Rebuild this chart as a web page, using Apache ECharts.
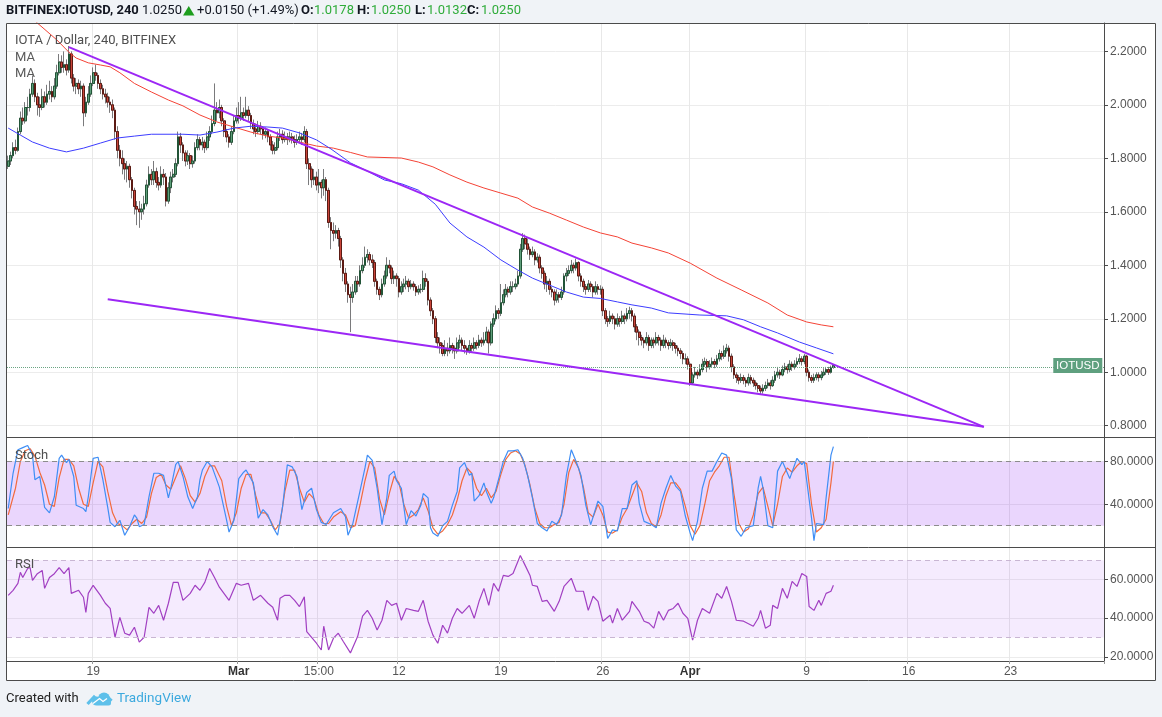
<!DOCTYPE html>
<html>
<head>
<meta charset="utf-8">
<title>IOTUSD 240</title>
<script src="https://cdn.jsdelivr.net/npm/echarts@6/dist/echarts.min.js"></script>
<style>
html, body { margin: 0; padding: 0; background: #f0f3f7; }
#chart { width: 1162px; height: 717px; }
</style>
</head>
<body>
<div id="chart"></div>
<script>
// 4h candles, [open, close, low, high], from 13 Feb 04:00
var candles = [
[1.770,1.790,1.760,1.810],[1.790,1.810,1.775,1.825],[1.810,1.840,1.800,1.860],[1.840,1.830,1.815,1.870],[1.830,1.900,1.825,1.915],
[1.900,1.950,1.890,1.975],[1.950,1.940,1.925,1.990],[1.940,1.990,1.930,2.010],[1.990,1.990,1.960,2.030],[1.990,2.040,1.975,2.060],
[2.040,2.080,2.030,2.110],[2.080,2.030,2.010,2.095],[2.030,2.000,1.960,2.045],[2.000,1.990,1.955,2.030],[1.990,2.030,1.980,2.060],
[2.030,2.010,1.990,2.050],[2.010,2.040,2.000,2.075],[2.040,2.050,2.020,2.090],[2.050,2.030,2.010,2.070],[2.030,2.070,2.020,2.100],
[2.070,2.120,2.060,2.150],[2.120,2.160,2.110,2.190],[2.160,2.140,2.120,2.185],[2.140,2.150,2.120,2.200],[2.150,2.130,2.110,2.170],
[2.130,2.190,2.120,2.220],[2.190,2.100,2.080,2.200],[2.100,2.070,2.050,2.115],[2.070,2.080,2.040,2.100],[2.080,2.060,2.040,2.095],
[2.060,2.070,2.030,2.090],[2.070,1.970,1.920,2.080],[1.970,2.010,1.955,2.030],[2.010,2.040,2.000,2.070],[2.040,2.080,2.030,2.110],
[2.080,2.120,2.070,2.140],[2.120,2.110,2.090,2.150],[2.110,2.080,2.060,2.120],[2.080,2.060,2.040,2.095],[2.060,2.040,2.020,2.075],
[2.040,2.030,2.005,2.060],[2.030,2.010,1.990,2.045],[2.010,2.000,1.970,2.030],[2.000,1.980,1.950,2.020],[1.980,1.900,1.870,1.990],
[1.900,1.830,1.800,1.920],[1.830,1.800,1.770,1.850],[1.800,1.780,1.740,1.830],[1.780,1.760,1.720,1.800],[1.760,1.770,1.710,1.790],
[1.770,1.720,1.690,1.780],[1.720,1.680,1.650,1.730],[1.680,1.620,1.590,1.690],[1.620,1.610,1.550,1.640],[1.610,1.600,1.540,1.640],
[1.600,1.610,1.570,1.630],[1.610,1.630,1.590,1.660],[1.630,1.700,1.620,1.720],[1.700,1.740,1.690,1.770],[1.740,1.720,1.700,1.760],
[1.720,1.750,1.700,1.790],[1.750,1.710,1.690,1.765],[1.710,1.700,1.680,1.730],[1.700,1.740,1.690,1.770],[1.740,1.730,1.700,1.760],
[1.730,1.640,1.620,1.745],[1.640,1.690,1.630,1.710],[1.690,1.730,1.670,1.750],[1.730,1.740,1.710,1.760],[1.740,1.780,1.730,1.800],
[1.780,1.880,1.770,1.900],[1.880,1.850,1.820,1.895],[1.850,1.820,1.790,1.860],[1.820,1.790,1.770,1.830],[1.790,1.810,1.775,1.830],
[1.810,1.780,1.760,1.820],[1.780,1.790,1.765,1.810],[1.790,1.840,1.780,1.860],[1.840,1.870,1.830,1.890],[1.870,1.850,1.830,1.880],
[1.850,1.860,1.830,1.880],[1.860,1.840,1.820,1.870],[1.840,1.880,1.830,1.900],[1.880,1.900,1.865,1.920],[1.900,1.930,1.890,1.960],
[1.930,1.980,1.920,2.080],[1.980,1.970,1.940,2.010],[1.970,1.990,1.950,2.020],[1.990,1.940,1.920,2.000],[1.940,1.900,1.880,1.950],
[1.900,1.880,1.860,1.910],[1.880,1.860,1.840,1.890],[1.860,1.900,1.850,1.920],[1.900,1.940,1.890,1.960],[1.940,1.960,1.930,1.990],
[1.960,1.950,1.930,2.010],[1.950,1.970,1.940,2.030],[1.970,1.960,1.940,1.990],[1.960,1.980,1.950,2.030],[1.980,1.960,1.940,1.995],
[1.960,1.930,1.910,1.970],[1.930,1.910,1.890,1.945],[1.910,1.900,1.880,1.930],[1.900,1.920,1.890,1.940],[1.920,1.910,1.890,1.935],
[1.910,1.890,1.870,1.920],[1.890,1.900,1.875,1.915],[1.900,1.880,1.860,1.910],[1.880,1.850,1.830,1.890],[1.850,1.830,1.815,1.865],
[1.830,1.840,1.815,1.860],[1.840,1.880,1.830,1.900],[1.880,1.890,1.865,1.910],[1.890,1.870,1.855,1.905],[1.870,1.880,1.860,1.900],
[1.880,1.870,1.850,1.895],[1.870,1.880,1.860,1.900],[1.880,1.870,1.855,1.895],[1.870,1.860,1.840,1.885],[1.860,1.870,1.850,1.890],
[1.870,1.880,1.860,1.900],[1.880,1.870,1.850,1.895],[1.870,1.900,1.860,1.920],[1.900,1.780,1.760,1.910],[1.780,1.760,1.700,1.800],
[1.760,1.720,1.690,1.770],[1.720,1.730,1.700,1.760],[1.730,1.700,1.680,1.750],[1.700,1.710,1.670,1.760],[1.710,1.690,1.650,1.720],
[1.690,1.720,1.660,1.760],[1.720,1.680,1.640,1.730],[1.680,1.560,1.540,1.690],[1.560,1.530,1.460,1.580],[1.530,1.520,1.490,1.560],
[1.520,1.530,1.500,1.550],[1.530,1.500,1.470,1.540],[1.500,1.420,1.390,1.510],[1.420,1.370,1.340,1.430],[1.370,1.330,1.300,1.390],
[1.330,1.290,1.260,1.340],[1.290,1.280,1.150,1.320],[1.280,1.300,1.260,1.330],[1.300,1.340,1.290,1.360],[1.340,1.330,1.300,1.360],
[1.330,1.380,1.320,1.400],[1.380,1.400,1.370,1.430],[1.400,1.430,1.390,1.470],[1.430,1.440,1.410,1.460],[1.440,1.420,1.400,1.450],
[1.420,1.410,1.390,1.440],[1.410,1.340,1.320,1.420],[1.340,1.310,1.290,1.350],[1.310,1.290,1.270,1.320],[1.290,1.330,1.280,1.350],
[1.330,1.360,1.320,1.380],[1.360,1.400,1.350,1.430],[1.400,1.390,1.370,1.420],[1.390,1.350,1.330,1.400],[1.350,1.360,1.330,1.380],
[1.360,1.350,1.320,1.370],[1.350,1.300,1.280,1.360],[1.300,1.320,1.290,1.340],[1.320,1.330,1.300,1.350],[1.330,1.340,1.310,1.360],
[1.340,1.320,1.300,1.350],[1.320,1.330,1.310,1.345],[1.330,1.320,1.305,1.340],[1.320,1.300,1.285,1.330],[1.300,1.310,1.290,1.325],
[1.310,1.310,1.295,1.330],[1.310,1.350,1.300,1.380],[1.350,1.340,1.320,1.370],[1.340,1.270,1.250,1.350],[1.270,1.230,1.210,1.280],
[1.230,1.200,1.180,1.240],[1.200,1.130,1.110,1.210],[1.130,1.110,1.090,1.150],[1.110,1.100,1.070,1.130],[1.100,1.070,1.060,1.110],
[1.070,1.090,1.060,1.120],[1.090,1.080,1.060,1.110],[1.080,1.100,1.070,1.130],[1.100,1.090,1.070,1.110],[1.090,1.080,1.050,1.100],
[1.080,1.110,1.070,1.130],[1.110,1.120,1.090,1.140],[1.120,1.100,1.080,1.130],[1.100,1.090,1.070,1.120],[1.090,1.080,1.065,1.100],
[1.080,1.100,1.070,1.120],[1.100,1.090,1.075,1.110],[1.090,1.110,1.080,1.130],[1.110,1.100,1.085,1.120],[1.100,1.120,1.090,1.140],
[1.120,1.110,1.095,1.130],[1.110,1.120,1.100,1.150],[1.120,1.150,1.110,1.170],[1.150,1.110,1.070,1.160],[1.110,1.180,1.100,1.190],
[1.180,1.200,1.170,1.220],[1.200,1.230,1.190,1.250],[1.230,1.220,1.200,1.240],[1.220,1.260,1.210,1.330],[1.260,1.290,1.250,1.310],
[1.290,1.310,1.280,1.330],[1.310,1.300,1.280,1.320],[1.300,1.320,1.290,1.340],[1.320,1.320,1.300,1.340],[1.320,1.330,1.310,1.350],
[1.330,1.360,1.320,1.380],[1.360,1.460,1.350,1.480],[1.460,1.500,1.450,1.520],[1.500,1.480,1.460,1.515],[1.480,1.460,1.440,1.500],
[1.460,1.440,1.420,1.470],[1.440,1.450,1.430,1.470],[1.450,1.420,1.400,1.460],[1.420,1.430,1.410,1.445],[1.430,1.390,1.370,1.440],
[1.390,1.370,1.350,1.400],[1.370,1.330,1.310,1.380],[1.330,1.340,1.300,1.360],[1.340,1.310,1.290,1.350],[1.310,1.300,1.280,1.320],
[1.300,1.270,1.250,1.310],[1.270,1.290,1.260,1.310],[1.290,1.280,1.260,1.300],[1.280,1.300,1.270,1.320],[1.300,1.360,1.290,1.370],
[1.360,1.370,1.340,1.390],[1.370,1.380,1.360,1.400],[1.380,1.400,1.370,1.420],[1.400,1.390,1.370,1.410],[1.390,1.410,1.380,1.425],
[1.410,1.360,1.340,1.415],[1.360,1.340,1.320,1.370],[1.340,1.320,1.300,1.350],[1.320,1.310,1.290,1.330],[1.310,1.330,1.300,1.345],
[1.330,1.320,1.300,1.340],[1.320,1.300,1.280,1.330],[1.300,1.320,1.290,1.340],[1.320,1.310,1.290,1.330],[1.310,1.310,1.290,1.325],
[1.310,1.230,1.210,1.320],[1.230,1.200,1.180,1.240],[1.200,1.190,1.170,1.210],[1.190,1.210,1.180,1.230],[1.210,1.200,1.180,1.220],
[1.200,1.180,1.160,1.210],[1.180,1.200,1.170,1.220],[1.200,1.190,1.170,1.210],[1.190,1.210,1.180,1.230],[1.210,1.200,1.180,1.220],
[1.200,1.220,1.190,1.240],[1.220,1.230,1.200,1.245],[1.230,1.210,1.190,1.240],[1.210,1.170,1.150,1.220],[1.170,1.150,1.120,1.180],
[1.150,1.130,1.100,1.160],[1.130,1.120,1.100,1.140],[1.120,1.110,1.090,1.130],[1.110,1.130,1.100,1.150],[1.130,1.100,1.080,1.140],
[1.100,1.120,1.090,1.130],[1.120,1.110,1.090,1.130],[1.110,1.130,1.100,1.150],[1.130,1.120,1.100,1.140],[1.120,1.100,1.080,1.130],
[1.100,1.120,1.090,1.140],[1.120,1.110,1.090,1.130],[1.110,1.100,1.085,1.120],[1.100,1.110,1.090,1.125],[1.110,1.100,1.080,1.120],
[1.100,1.090,1.070,1.110],[1.090,1.080,1.060,1.100],[1.080,1.070,1.050,1.090],[1.070,1.050,1.030,1.080],[1.050,1.050,1.030,1.070],
[1.050,1.030,1.010,1.060],[1.030,0.960,0.949,1.040],[0.960,0.990,0.955,1.000],[0.990,1.000,0.980,1.020],[1.000,0.990,0.975,1.010],
[0.990,1.010,0.985,1.030],[1.010,1.030,1.000,1.050],[1.030,1.040,1.020,1.055],[1.040,1.020,1.000,1.050],[1.020,1.030,1.010,1.045],
[1.030,1.040,1.020,1.055],[1.040,1.030,1.015,1.050],[1.030,1.050,1.020,1.065],[1.050,1.070,1.040,1.085],[1.070,1.060,1.045,1.080],
[1.060,1.080,1.050,1.100],[1.080,1.090,1.070,1.106],[1.090,1.060,1.040,1.100],[1.060,1.020,1.000,1.070],[1.020,0.990,0.975,1.030],
[0.990,0.980,0.960,1.000],[0.980,0.970,0.955,0.990],[0.970,0.980,0.960,0.995],[0.980,0.970,0.955,0.990],[0.970,0.960,0.945,0.980],
[0.960,0.980,0.950,0.995],[0.980,0.970,0.955,0.990],[0.970,0.960,0.945,0.980],[0.960,0.950,0.935,0.970],[0.950,0.940,0.925,0.960],
[0.940,0.930,0.915,0.950],[0.930,0.940,0.920,0.955],[0.940,0.950,0.930,0.965],[0.950,0.960,0.940,0.975],[0.960,0.950,0.935,0.970],
[0.950,0.970,0.945,0.985],[0.970,0.990,0.960,1.005],[0.990,1.000,0.980,1.020],[1.000,0.990,0.975,1.010],[0.990,1.010,0.985,1.025],
[1.010,1.020,1.000,1.035],[1.020,1.010,0.995,1.030],[1.010,1.030,1.000,1.045],[1.030,1.020,1.005,1.040],[1.020,1.030,1.010,1.045],
[1.030,1.040,1.020,1.055],[1.040,1.050,1.030,1.068],[1.050,1.040,1.025,1.060],[1.040,1.060,1.030,1.068],[1.060,1.000,0.985,1.065],
[1.000,0.980,0.965,1.010],[0.980,0.970,0.960,0.990],[0.970,0.980,0.960,0.995],[0.980,0.990,0.970,1.000],[0.990,0.980,0.965,1.000],
[0.980,0.990,0.970,1.005],[0.990,1.000,0.985,1.015],[1.000,1.010,0.990,1.020],[1.010,1.000,0.990,1.020],[1.000,1.018,0.995,1.025],
[1.0178,1.025,1.0132,1.025]
];

// moving averages, [slot, value]
var maRed = [[0,2.40],[12,2.306],[20,2.243],[25,2.197],[28,2.175],[33,2.157],[38,2.149],[42,2.142],[46,2.12],[52,2.08],
  [59,2.048],[66,2.018],[72,1.996],[79,1.962],[86,1.936],[93,1.917],[100,1.898],[107,1.883],[113,1.876],[120,1.861],
  [127,1.846],[134,1.838],[141,1.822],[148,1.805],[162,1.801],[169,1.786],[175,1.768],[182,1.738],[189,1.711],[196,1.689],
  [203,1.670],[210,1.651],[216,1.618],[223,1.595],[230,1.569],[237,1.543],[244,1.521],[251,1.506],[257,1.483],[265,1.465],
  [272,1.446],[281,1.408],[292,1.352],[302,1.308],[313,1.259],[321,1.214],[329,1.188],[335,1.177],[340,1.170]];
var maBlue = [[0,1.913],[5,1.887],[10,1.861],[17,1.838],[24,1.824],[31,1.838],[38,1.857],[45,1.876],[52,1.883],[59,1.89],
  [72,1.89],[79,1.887],[86,1.898],[93,1.913],[100,1.92],[107,1.917],[113,1.913],[120,1.895],[127,1.869],[133,1.835],
  [141,1.783],[148,1.752],[155,1.719],[162,1.705],[169,1.681],[176,1.628],[182,1.558],[189,1.506],[196,1.468],[203,1.42],
  [210,1.382],[216,1.352],[223,1.326],[230,1.30],[237,1.281],[244,1.276],[251,1.263],[257,1.252],[265,1.24],[272,1.222],
  [285,1.214],[296,1.211],[303,1.196],[310,1.17],[317,1.147],[326,1.113],[333,1.091],[340,1.069]];

// drawn trend lines, [slot, price]
var trendUpper = [[25,2.216],[402,0.796]];
var trendLower = [[41,1.273],[402,0.796]];
var lastPrice = 1.025;

// stochastic %K / %D, [slot, value]
var stochK = [[0,36],[2,69],[4,91],[6,93],[8,95],[10,86],[11,63],[13,66],[15,37],[17,32],[19,47],[21,83],[22,86],[24,79],
  [25,82],[27,66],[28,39],[31,36],[32,33],[33,47],[35,83],[37,84],[39,63],[41,37],[42,23],[44,19],[46,25],[48,11],[50,19],
  [52,30],[53,27],[54,19],[56,21],[58,47],[60,69],[62,69],[64,67],[66,46],[67,55],[69,77],[70,80],[72,66],[74,47],[76,36],
  [78,47],[79,63],[80,72],[82,80],[84,75],[87,56],[90,25],[91,14],[93,25],[95,64],[97,70],[98,72],[101,60],[103,27],[105,35],
  [107,30],[109,19],[111,11],[113,37],[115,77],[117,75],[119,66],[121,35],[123,51],[125,55],[127,35],[129,23],[131,21],[134,32],
  [137,36],[139,28],[140,11],[142,22],[145,53],[147,74],[148,86],[150,81],[152,55],[154,21],[156,46],[157,67],[159,71],[160,62],
  [162,55],[164,21],[166,34],[168,29],[170,39],[171,50],[173,46],[174,18],[175,13],[177,10],[179,20],[181,24],[183,39],[185,52],
  [186,74],[188,79],[190,67],[191,69],[192,43],[194,48],[196,60],[197,52],[199,41],[200,46],[202,63],[204,80],[206,90],[208,90],
  [210,91],[212,83],[214,67],[216,46],[218,22],[220,18],[222,15],[224,24],[226,21],[228,30],[230,67],[232,91],[234,80],[236,67],
  [238,39],[240,21],[243,43],[245,38],[247,8],[249,16],[251,15],[253,36],[255,36],[257,58],[259,62],[260,41],[262,24],[265,21],
  [267,18],[269,41],[271,55],[273,67],[275,57],[277,52],[279,29],[281,13],[282,6],[284,24],[286,55],[288,71],[290,71],[292,80],
  [294,88],[296,86],[298,64],[300,16],[302,10],[304,18],[307,20],[309,55],[310,66],[311,55],[313,20],[315,18],[317,71],[319,80],
  [322,64],[325,83],[327,77],[328,80],[331,27],[332,6],[333,22],[336,21],[337,46],[339,86],[340,94]];
var stochD = [[0,30],[3,55],[5,80],[7,90],[9,92],[11,85],[13,70],[15,58],[17,40],[19,38],[21,65],[23,82],[25,82],[27,76],
  [29,55],[31,40],[33,38],[35,60],[37,80],[39,75],[41,52],[43,32],[45,22],[47,20],[49,16],[51,22],[53,26],[55,22],[57,28],
  [59,50],[61,65],[63,68],[65,58],[67,54],[69,65],[71,76],[73,64],[75,48],[77,42],[79,50],[81,66],[83,76],[85,76],[88,62],
  [90,38],[92,20],[94,32],[96,55],[98,68],[100,68],[102,48],[104,32],[106,32],[108,25],[110,16],[112,22],[114,52],[116,72],
  [118,72],[120,55],[122,42],[124,50],[126,45],[128,30],[130,22],[132,22],[134,28],[137,33],[139,30],[141,18],[143,20],[145,40],
  [147,62],[149,80],[151,74],[153,45],[155,30],[157,50],[159,66],[161,60],[163,40],[165,27],[167,30],[169,35],[171,46],[173,34],
  [175,18],[177,12],[179,15],[181,21],[183,30],[185,44],[187,62],[189,74],[191,69],[193,55],[195,48],[197,55],[199,46],[201,52],
  [203,68],[205,82],[207,88],[209,90],[211,87],[213,76],[215,58],[217,36],[219,22],[221,18],[223,18],[225,21],[227,23],[229,40],
  [231,70],[233,82],[235,74],[237,56],[239,32],[241,28],[243,40],[245,30],[247,14],[249,13],[251,16],[253,28],[255,36],[257,48],
  [259,60],[261,52],[263,32],[265,22],[267,19],[269,30],[271,48],[273,60],[275,60],[277,54],[279,38],[281,20],[283,12],[285,20],
  [287,40],[289,62],[291,70],[293,76],[295,84],[297,84],[299,50],[301,22],[303,14],[305,17],[307,30],[309,50],[311,56],[313,38],
  [315,20],[317,40],[319,66],[321,74],[323,70],[325,76],[327,80],[329,78],[331,40],[333,14],[335,18],[337,26],[339,60],[340,80]];

// RSI, [slot, value]
var rsi = [[0,51.8],[2,54.4],[4,58],[5,63.7],[6,61],[8,65.7],[9,66.2],[10,59.5],[12,63],[14,64.7],[15,55.4],[17,61],[19,63],
  [21,66.2],[23,63],[25,66.2],[26,52.8],[29,54.4],[31,50.8],[32,43],[33,52.8],[35,57],[38,51.8],[40,47.7],[42,45],[44,30.1],
  [46,40.4],[48,32.2],[50,31.2],[52,35.3],[54,27.6],[56,30.1],[58,45.6],[60,42.5],[62,46.6],[64,38.9],[66,47.7],[68,58.5],
  [70,58.5],[72,49.2],[75,52.8],[77,57],[79,54.4],[81,58.5],[83,65.7],[85,61],[87,56],[91,49.2],[94,58],[96,57],[99,58],
  [101,49.2],[104,51.8],[107,47.7],[109,45.6],[111,38.9],[112,50.3],[114,51.8],[116,51.8],[118,49.2],[120,46],[122,51],[123,33],
  [127,27],[129,23.5],[130,35.8],[132,23.5],[134,29.6],[136,32.2],[138,28],[141,22],[144,30.6],[146,41],[148,44],[150,39.9],
  [152,33.8],[154,38.9],[156,49.2],[158,46.6],[160,47.7],[162,38.9],[164,45],[167,44],[169,43.5],[171,49.2],[173,38.4],[175,31.2],
  [177,27],[179,36.3],[181,32.2],[183,39.9],[185,45],[187,42.5],[190,46.6],[192,39.9],[194,48.7],[196,55.4],[198,46.6],[200,58],
  [202,53.9],[204,62.1],[206,61.6],[208,63.1],[211,72.4],[213,67.3],[215,62.1],[216,57],[218,56.4],[220,48.7],[222,49.2],
  [225,43.5],[227,48.7],[229,56.4],[232,60.6],[234,53.9],[237,53.9],[239,44],[241,51.3],[243,48.7],[245,38.4],[248,41.5],
  [249,37.4],[251,45],[253,38.9],[256,43.5],[257,48.7],[260,43.5],[262,38.4],[264,37.4],[266,34.8],[268,43.5],[270,38.9],
  [272,44],[274,45],[276,47.7],[278,42.5],[280,39.9],[282,28.6],[284,38.9],[286,45],[289,42.5],[292,52.8],[294,50.3],[296,56.4],
  [298,48.7],[300,38.9],[303,38.4],[307,35.8],[309,39.9],[310,44],[312,34.8],[314,36.3],[315,46.6],[317,45],[319,55.4],
  [321,50.3],[323,59],[325,56.4],[327,63.1],[329,61.6],[330,46],[332,44],[334,49.2],[335,46.6],[337,52.8],[339,53.9],[340,57]];

var priceTicks = [0.8, 1.0, 1.2, 1.4, 1.6, 1.8, 2.0, 2.2];
var stochTicks = [40, 80];
var rsiTicks = [20, 40, 60];
var xTickLabels = {35: '19', 95: 'Mar', 128: '15:00', 161: '12', 203: '19', 245: '26', 281: 'Apr', 329: '9', 371: '16', 413: '23'};

var slotCount = 452;
var categories = [];
for (var i = 0; i < slotCount; i++) {
    var d = new Date(Date.UTC(2018, 1, 13, 4) + i * 4 * 3600 * 1000);
    categories.push(d.toISOString().slice(0, 16).replace('T', ' '));
}
// body-only copy so wicks can be grey while bodies keep dark outlines
var bodies = candles.map(function (c) {
    return [c[0], c[1], Math.min(c[0], c[1]), Math.max(c[0], c[1])];
});

var uiFont = 'Roboto, "Liberation Sans", sans-serif';
var axisFont = '"Liberation Sans", Arial, sans-serif';
function isTick(idx) { return xTickLabels[idx] !== undefined; }

function makeXAxis(g, withLabels) {
    return {
        type: 'category', gridIndex: g, data: categories, boundaryGap: true,
        axisLine: {show: withLabels, lineStyle: {color: '#4b4b4b'}},
        axisTick: {show: withLabels, interval: isTick, length: 3, lineStyle: {color: '#9a9a9a'}},
        axisLabel: {
            show: withLabels, interval: isTick, margin: 5, color: '#555', fontSize: 12, fontFamily: axisFont,
            formatter: function (v, idx) {
                var t = xTickLabels[idx] || '';
                return (t === 'Mar' || t === 'Apr') ? '{b|' + t + '}' : t;
            },
            rich: {b: {fontWeight: 'bold', color: '#333', fontSize: 12, fontFamily: axisFont}}
        },
        splitLine: {show: true, interval: isTick, lineStyle: {color: '#e8e8e8'}}
    };
}
function makeYAxis(g, min, max, ticks) {
    return {
        type: 'value', gridIndex: g, position: 'right', min: min, max: max,
        axisLine: {show: true, lineStyle: {color: '#4b4b4b'}},
        axisTick: {show: true, length: 4, customValues: ticks, lineStyle: {color: '#4b4b4b'}},
        axisLabel: {customValues: ticks, margin: 6, color: '#555', fontSize: 12, fontFamily: axisFont,
            formatter: function (v) { return v.toFixed(4); }},
        splitLine: {show: true, lineStyle: {color: '#ececec'}}
    };
}

var chart = echarts.init(document.getElementById('chart'));
var headText = function (x, text, bold, fill) {
    return {type: 'text', style: {x: x, y: 11, text: text, fill: fill || '#131722', fontSize: 13,
        fontWeight: bold ? 'bold' : 'normal', fontFamily: uiFont, verticalAlign: 'middle'}};
};
var option = {
    animation: false,
    backgroundColor: '#ffffff',
    grid: [
        {left: 7, right: 58, top: 23, height: 414.5},
        {left: 7, right: 58, top: 438, height: 109},
        {left: 7, right: 58, top: 548, height: 113}
    ],
    xAxis: [makeXAxis(0, false), makeXAxis(1, false), makeXAxis(2, true)],
    yAxis: [makeYAxis(0, 0.756, 2.306, priceTicks), makeYAxis(1, 0, 102, stochTicks), makeYAxis(2, 17.8, 76.3, rsiTicks)],
    series: [
        {
            name: 'wicks', type: 'candlestick', xAxisIndex: 0, yAxisIndex: 0, data: candles, barWidth: 2.2, z: 2,
            itemStyle: {color: '#7a7a7c', color0: '#7a7a7c', borderColor: '#7a7a7c', borderColor0: '#7a7a7c', borderWidth: 1}
        },
        {
            name: 'IOTUSD', type: 'candlestick', xAxisIndex: 0, yAxisIndex: 0, data: bodies, barWidth: 2.2, z: 3,
            itemStyle: {color: '#5f9f7b', color0: '#c9453a', borderColor: '#225437', borderColor0: '#5b1a13', borderWidth: 1},
            markLine: {
                silent: true, symbol: ['none', 'none'], label: {show: false},
                lineStyle: {type: 'dotted', color: '#6ba583', width: 1},
                data: [{yAxis: lastPrice}]
            },
            markPoint: {
                silent: true, symbol: 'rect', symbolSize: [49, 15], symbolOffset: [-25, 0],
                itemStyle: {color: '#5fa07f'},
                label: {show: true, position: 'inside', formatter: 'IOTUSD', color: '#fff', fontSize: 11.5, fontFamily: axisFont},
                data: [{coord: [categories[slotCount - 1], lastPrice]}]
            }
        },
        {name: 'MA', type: 'line', xAxisIndex: 0, yAxisIndex: 0, data: maRed, symbol: 'none', z: 4,
            lineStyle: {color: '#f44336', width: 1}},
        {name: 'MA', type: 'line', xAxisIndex: 0, yAxisIndex: 0, data: maBlue, symbol: 'none', z: 4,
            lineStyle: {color: '#3d3dff', width: 1}},
        {name: 'trend', type: 'line', xAxisIndex: 0, yAxisIndex: 0, data: trendUpper, symbol: 'none', z: 5,
            lineStyle: {color: '#9c27f5', width: 2}},
        {name: 'trend', type: 'line', xAxisIndex: 0, yAxisIndex: 0, data: trendLower, symbol: 'none', z: 5,
            lineStyle: {color: '#9c27f5', width: 2}},
        {
            name: 'Stoch %K', type: 'line', xAxisIndex: 1, yAxisIndex: 1, data: stochK, symbol: 'none', z: 4,
            lineStyle: {color: '#3f8ef5', width: 1.2},
            markArea: {silent: true, itemStyle: {color: 'rgba(150, 50, 245, 0.2)'}, data: [[{yAxis: 20}, {yAxis: 80}]]},
            markLine: {silent: true, symbol: ['none', 'none'], label: {show: false},
                lineStyle: {type: [5, 4], color: '#8c8c8c', width: 1}, data: [{yAxis: 20}, {yAxis: 80}]}
        },
        {name: 'Stoch %D', type: 'line', xAxisIndex: 1, yAxisIndex: 1, data: stochD, symbol: 'none', z: 3,
            lineStyle: {color: '#f26a3d', width: 1.2}},
        {
            name: 'RSI', type: 'line', xAxisIndex: 2, yAxisIndex: 2, data: rsi, symbol: 'none', z: 4,
            lineStyle: {color: '#a13fc2', width: 1.2},
            markArea: {silent: true, itemStyle: {color: 'rgba(160, 60, 245, 0.1)'}, data: [[{yAxis: 30}, {yAxis: 70}]]},
            markLine: {silent: true, symbol: ['none', 'none'], label: {show: false},
                lineStyle: {type: [5, 4], color: '#c9b6d3', width: 1}, data: [{yAxis: 30}, {yAxis: 70}]}
        }
    ],
    graphic: [
        // page background around the chart box
        {type: 'rect', shape: {x: 0, y: 0, width: 1162, height: 23}, style: {fill: '#f0f3f7'}, silent: true},
        {type: 'rect', shape: {x: 0, y: 680.5, width: 1162, height: 37}, style: {fill: '#f0f3f7'}, silent: true},
        {type: 'rect', shape: {x: 0, y: 0, width: 6, height: 717}, style: {fill: '#f0f3f7'}, silent: true},
        {type: 'rect', shape: {x: 1156, y: 0, width: 6, height: 717}, style: {fill: '#f0f3f7'}, silent: true},
        // frame and pane separators
        {type: 'rect', z: 100, shape: {x: 6.5, y: 23.5, width: 1149, height: 657}, style: {fill: 'none', stroke: '#4b4b4b', lineWidth: 1}, silent: true},
        {type: 'line', z: 100, shape: {x1: 6.5, y1: 437.5, x2: 1155.5, y2: 437.5}, style: {stroke: '#4b4b4b', lineWidth: 1}, silent: true},
        {type: 'line', z: 100, shape: {x1: 6.5, y1: 547.5, x2: 1155.5, y2: 547.5}, style: {stroke: '#4b4b4b', lineWidth: 1}, silent: true},
        // header
        headText(6, 'BITFINEX:IOTUSD, 240', true),
        headText(142, '1.0250'),
        {type: 'polygon', shape: {points: [[183, 15.5], [194.5, 15.5], [188.75, 6]]}, style: {fill: '#1e9e1e'}},
        headText(197, '+0.0150 (+1.49%)'),
        headText(301, 'O:', true), headText(314, '1.0178', false, '#2fac3a'),
        headText(357, 'H:', true), headText(371, '1.0250', false, '#2fac3a'),
        headText(415, 'L:', true), headText(427, '1.0132', false, '#2fac3a'),
        headText(467, 'C:', true), headText(481, '1.0250', false, '#2fac3a'),
        // pane legends
        {type: 'text', z: 50, style: {x: 15, y: 41, text: 'IOTA / Dollar, 240, BITFINEX', fill: '#4f4f4f', fontSize: 13, fontFamily: uiFont, verticalAlign: 'middle'}},
        {type: 'text', z: 50, style: {x: 15, y: 58, text: 'MA', fill: '#5a5a5a', fontSize: 13, fontFamily: uiFont, verticalAlign: 'middle'}},
        {type: 'text', z: 50, style: {x: 15, y: 74, text: 'MA', fill: '#5a5a5a', fontSize: 13, fontFamily: uiFont, verticalAlign: 'middle'}},
        {type: 'text', z: 50, style: {x: 15, y: 456, text: 'Stoch', fill: '#4f4f4f', fontSize: 13, fontFamily: uiFont, verticalAlign: 'middle'}},
        {type: 'text', z: 50, style: {x: 15, y: 565, text: 'RSI', fill: '#4f4f4f', fontSize: 13, fontFamily: uiFont, verticalAlign: 'middle'}},
        // footer
        {type: 'text', style: {x: 6, y: 699, text: 'Created with', fill: '#222', fontSize: 13, fontFamily: uiFont, verticalAlign: 'middle'}},
        {type: 'circle', shape: {cx: 104, cy: 698.5, r: 6}, style: {fill: '#5ec0ea'}},
        {type: 'circle', shape: {cx: 96.5, cy: 701, r: 4.5}, style: {fill: '#5ec0ea'}},
        {type: 'rect', shape: {x: 96, y: 700, width: 15, height: 5.5, r: 2.5}, style: {fill: '#5ec0ea'}},
        {type: 'polyline', shape: {points: [[87.5, 704], [94, 697], [99.5, 702.5], [106, 695.5], [111.5, 701]]}, style: {stroke: '#5ec0ea', lineWidth: 3.2, fill: 'none'}},
        {type: 'polyline', shape: {points: [[93, 703.5], [99.5, 698.5], [103, 701.5], [107, 698.5]]}, style: {stroke: '#ffffff', lineWidth: 1.3, fill: 'none'}},
        {type: 'text', style: {x: 117, y: 699, text: 'TradingView', fill: '#3ca9de', fontSize: 13.5, fontFamily: uiFont, verticalAlign: 'middle'}}
    ]
};
chart.setOption(option);
</script>
</body>
</html>
